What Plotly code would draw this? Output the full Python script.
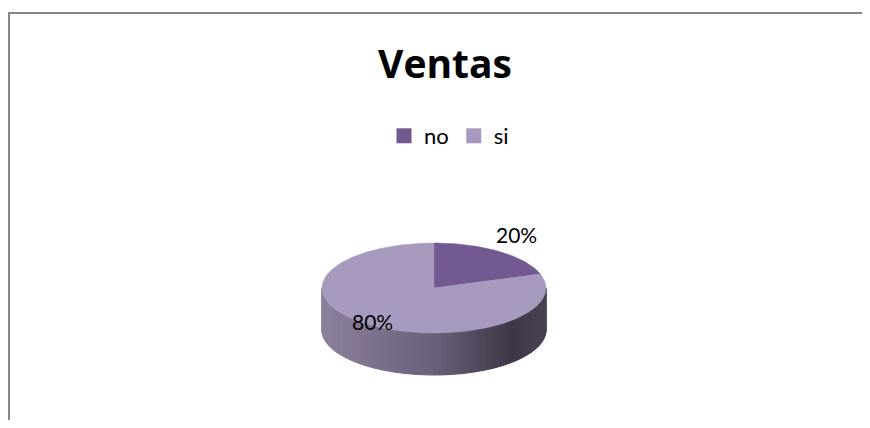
import numpy as np
import plotly.graph_objects as go

# ---- data ----
categories = ["no", "si"]
values = [20, 80]
label_texts = ["20%", "80%"]
title_text = "Ventas"

# ---- style ----
top_colors = ["#725991", "#A89ABE"]
side_stops = [(0.0, (141, 128, 158)), (0.5, (106, 96, 122)), (0.85, (62, 55, 71)), (1.0, (74, 67, 86))]
font_family = "Lato, 'Open Sans', sans-serif"
title_family = "'Open Sans', Lato, sans-serif"

PAGE_W, PAGE_H = 870, 428
OFF = 8  # default body margin of the html page
W, H = PAGE_W - OFF, PAGE_H - 2 * OFF
cx, cy, rx, ry, depth = 434, 288, 112, 45, 42
label_factors = [(1.25, 1.48), (0.94, 0.93)]


def pt(a_deg, dy=0.0, f=(1.0, 1.0)):
    a = np.radians(a_deg)
    return cx + rx * f[0] * np.sin(a), cy - ry * f[1] * np.cos(a) + dy


def side_color(t):
    for (t0, c0), (t1, c1) in zip(side_stops[:-1], side_stops[1:]):
        if t0 <= t <= t1:
            u = (t - t0) / (t1 - t0)
            c = [round(c0[i] + (c1[i] - c0[i]) * u) for i in range(3)]
            return "rgb(%d,%d,%d)" % tuple(c)
    return "rgb(%d,%d,%d)" % side_stops[-1][1]


fig = go.Figure()

# side (visible lower half, 90deg .. 270deg clockwise from top)
n_strips = 90
edges = np.linspace(90, 270, n_strips + 1)
for a0, a1 in zip(edges[:-1], edges[1:]):
    sub = np.linspace(a0, a1, 4)
    top = [pt(a) for a in sub]
    bot = [pt(a, depth) for a in sub[::-1]]
    poly = top + bot + [top[0]]
    xm = (pt(a0)[0] + pt(a1)[0]) / 2
    t = (xm - (cx - rx)) / (2 * rx)
    t = min(max(t, 0.0), 1.0)
    col = side_color(t)
    fig.add_trace(go.Scatter(
        x=[p[0] for p in poly], y=[p[1] for p in poly],
        mode="lines", fill="toself", fillcolor=col,
        line=dict(color=col, width=1), hoverinfo="skip", showlegend=False))

# top face slices
total = sum(values)
start = 0.0
mids = []
for cat, val, col in zip(categories, values, top_colors):
    span = 360.0 * val / total
    arc = np.linspace(start, start + span, max(int(span), 2) + 1)
    pts = [(cx, cy)] + [pt(a) for a in arc] + [(cx, cy)]
    fig.add_trace(go.Scatter(
        x=[p[0] for p in pts], y=[p[1] for p in pts],
        mode="lines", fill="toself", fillcolor=col,
        line=dict(color=col, width=0.5), name=cat,
        hoverinfo="name", showlegend=False))
    mids.append(start + span / 2)
    start += span

# legend entries
for cat, col in zip(categories, top_colors):
    fig.add_trace(go.Scatter(
        x=[None], y=[None], mode="markers", name=cat,
        marker=dict(symbol="square", size=15, color=col)))

# data labels
for txt, m, f in zip(label_texts, mids, label_factors):
    x, y = pt(m, 0, f)
    fig.add_annotation(x=x, y=y, text=txt, showarrow=False,
                       font=dict(family=font_family, size=21, color="#000000"),
                       xanchor="center", yanchor="middle")

# chart border (top and left edges visible)
border = dict(color="#868686", width=2)
fig.add_shape(type="line", xref="x", yref="y", x0=9, y0=13, x1=OFF + W, y1=13,
              line=border, layer="above")
fig.add_shape(type="line", xref="x", yref="y", x0=9, y0=12, x1=9, y1=OFF + H,
              line=border, layer="above")

fig.update_layout(
    width=W, height=H,
    margin=dict(l=0, r=0, t=0, b=0),
    paper_bgcolor="white", plot_bgcolor="white",
    title=dict(text="<b>%s</b>" % title_text, x=(445 - OFF) / W, y=1 - (64 - OFF) / H,
               xanchor="center", yanchor="middle",
               font=dict(family=title_family, size=39, color="#000000")),
    legend=dict(orientation="h", x=(449 - OFF) / W, y=1 - (136 - OFF) / H,
                xanchor="center", yanchor="middle",
                font=dict(family=font_family, size=22, color="#000000"),
                bgcolor="rgba(0,0,0,0)"),
    xaxis=dict(range=[OFF, OFF + W], visible=False, fixedrange=True),
    yaxis=dict(range=[OFF + H, OFF], visible=False, fixedrange=True),
    showlegend=True,
)

fig.write_html("out.html", config={"displayModeBar": False})
